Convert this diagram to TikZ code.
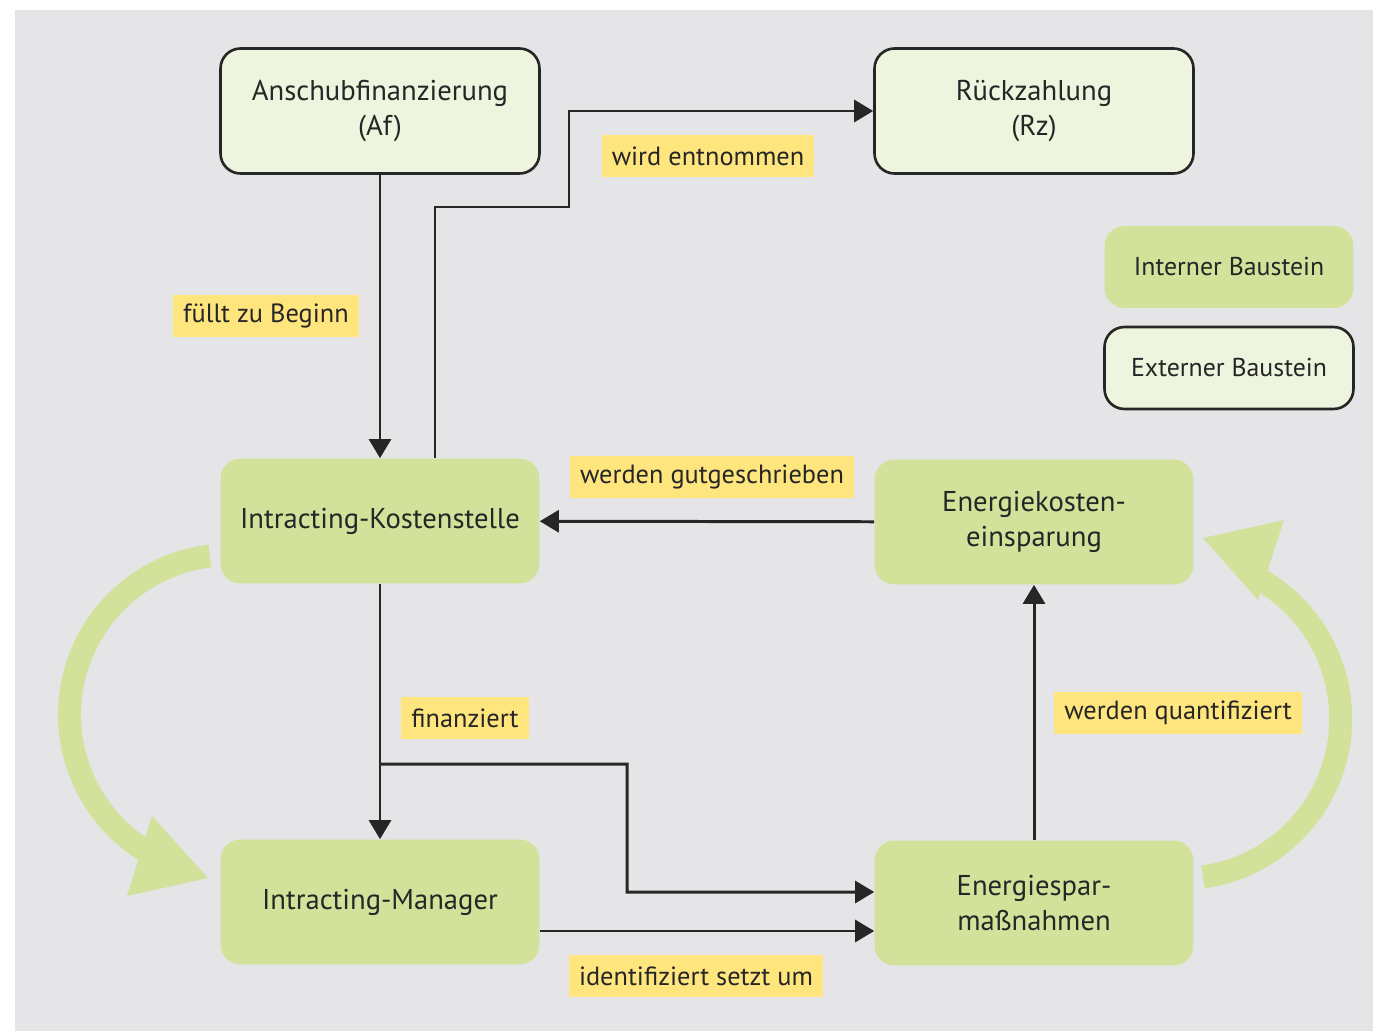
\documentclass[tikz,border=0pt]{standalone}
\usepackage{fontspec}
\setmainfont{PT Sans}
\usetikzlibrary{arrows.meta}
\definecolor{PanelGrey}{HTML}{E5E5E8}
\definecolor{LeafGreen}{HTML}{D2E29B}
\definecolor{PaleGreen}{HTML}{EEF5DE}
\definecolor{InkGrey}{HTML}{262626}
\definecolor{TagYellow}{HTML}{FFE57E}

\begin{document}
\begin{tikzpicture}[
  x=0.02cm, y=-0.02cm,
  intern/.style  = {fill=LeafGreen, rounded corners=0.4cm,
                    minimum width=6.38cm, minimum height=2.5cm,
                    align=center, text=InkGrey,
                    font=\fontsize{16.3}{19.5}\selectfont},
  extern/.style  = {intern, draw=InkGrey, line width=1.5pt, fill=PaleGreen},
  key/.style     = {minimum width=4.98cm, minimum height=1.64cm,
                    font=\fontsize{14.7}{17}\selectfont},
  tag/.style     = {fill=TagYellow, minimum height=0.84cm,
                    inner xsep=0.2cm, inner ysep=0pt, text=InkGrey,
                    font=\fontsize{15}{17}\selectfont},
  arr/.style     = {-{Triangle[length=0.38cm,width=0.44cm]},
                    line width=1.7pt, draw=InkGrey},
  loopbow/.style = {draw=LeafGreen, line width=0.46cm}
]
  \useasboundingbox (0,0) rectangle (1373,1031);
  \fill[PanelGrey] (15,10) rectangle (1373,1031);

  % building blocks
  \node[extern] (af)  at (380,111)  {Anschubfinanzierung\\(Af)};
  \node[extern] (rz)  at (1034,111) {Rückzahlung\\(Rz)};
  \node[intern] (iks) at (380,521)  {Intracting-Kostenstelle};
  \node[intern] (eke) at (1034,522) {Energiekosten-\\einsparung};
  \node[intern] (im)  at (380,902)  {Intracting-Manager};
  \node[intern] (esm) at (1034,903) {Energiespar-\\maßnahmen};

  % legend
  \node[intern, key]  (kint) at (1229,267) {Interner Baustein};
  \node[extern, key]  (kext) at (1229,368) {Externer Baustein};

  % flows
  \coordinate (take) at (569,207);
  \coordinate (split) at (380,764);
  \draw[arr] (af) -- (iks);
  \draw[arr] ([xshift=1.1cm]iks.north) |- (take) |- (rz.west);
  \draw[arr] (eke) -- (iks);
  \draw[arr] (iks) -- (im);
  \draw[arr] (split) -| (627,892) -- ([yshift=0.22cm]esm.west);
  \draw[arr] ([yshift=-0.58cm]im.east) -- ([yshift=-0.56cm]esm.west);
  \draw[arr] (esm) -- (eke);

  \node[tag] (tfill)   at (266,316)  {füllt zu Beginn};
  \node[tag] (ttake)   at (708,156)  {wird entnommen};
  \node[tag] (tcredit) at (712,477)  {werden gutgeschrieben};
  \node[tag] (tfin)    at (465,718)  {finanziert};
  \node[tag] (timpl)   at (696,976)  {identifiziert setzt um};
  \node[tag] (tquant)  at (1178,713) {werden quantifiziert};

  % cycle arrows
  \draw[loopbow] (210,556) arc[start angle=97, end angle=238, radius=3.2cm];
  \fill[LeafGreen] (208,878) -- (152,816) -- (127,896) -- cycle;
  \draw[loopbow] (1203,877) arc[start angle=278, end angle=420, radius=3.2cm];
  \fill[LeafGreen] (1203,538) -- (1284,520) -- (1258,600) -- cycle;
\end{tikzpicture}
\end{document}
